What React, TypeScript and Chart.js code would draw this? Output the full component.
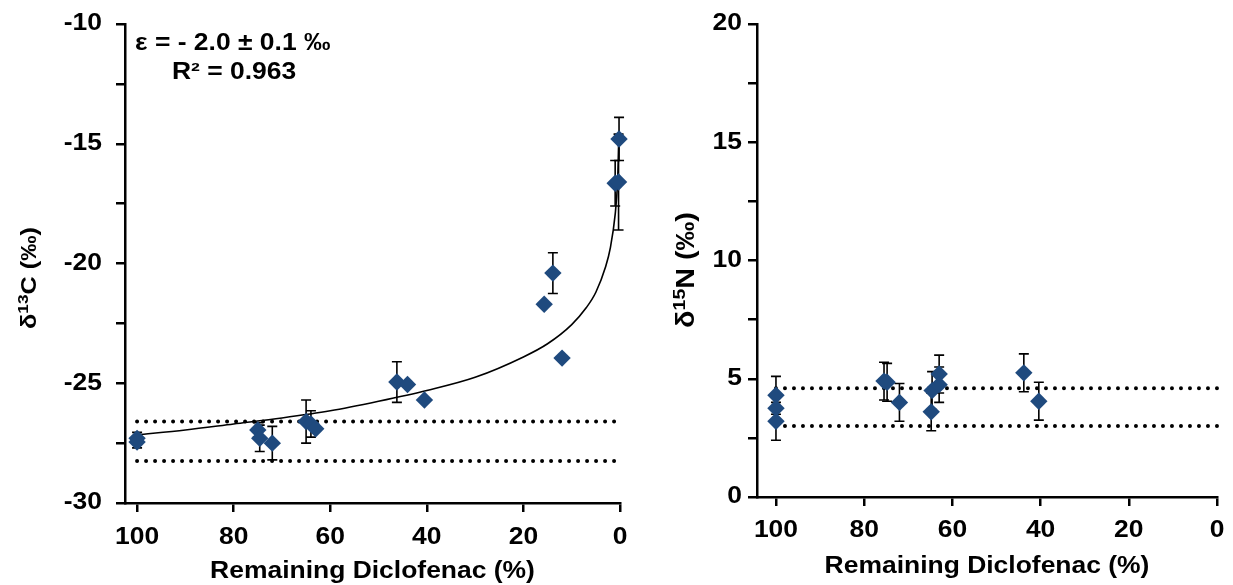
import React, { useEffect, useRef } from 'react';
import { Chart, registerables } from 'chart.js';

Chart.register(...registerables);

// ---------- data ----------
const xTickValues = [100, 80, 60, 40, 20, 0];

const carbonX = [100, 100, 75, 74.6, 72, 65, 64, 63, 46.2, 44, 40.5, 15.7, 13.9, 12, 1.0, 0.3, 0.2];
const carbonY = [-27.3, -27.45, -26.95, -27.3, -27.5, -26.6, -26.7, -26.9, -24.95, -25.05, -25.7, -21.7, -20.4, -23.95, -16.65, -16.6, -14.8];
const carbonErr = [0.25, 0.25, 0.3, 0.55, 0.7, 0.9, 0.55, 0, 0.85, 0, 0, 0, 0.85, 0, 0.95, 2.0, 0.9];

const fitX = [100, 90, 80, 70, 60, 50, 40, 30, 20, 15, 10, 7, 5, 3, 2, 1, 0.5, 0.2];
const fitY = [-27.15, -26.95, -26.7, -26.45, -26.15, -25.75, -25.3, -24.75, -23.9, -23.35, -22.55, -21.85, -21.2, -20.15, -19.35, -17.95, -16.6, -14.8];

const bandX = [100, 0];
const carbonBand = [-26.6, -28.25];

const nitrogenX = [100, 100, 100, 75.5, 74.8, 72, 64.8, 64.6, 63, 63, 43.8, 40.4];
const nitrogenY = [4.3, 3.75, 3.2, 4.9, 4.85, 4.0, 3.6, 4.5, 5.2, 4.75, 5.25, 4.05];
const nitrogenErr = [0.8, 0, 0.8, 0.8, 0.8, 0.8, 0.8, 0.8, 0.8, 0.75, 0.8, 0.8];
const nitrogenBand = [4.6, 3.0];

const carbonYTicks = [-30, -27.5, -25, -22.5, -20, -17.5, -15, -12.5, -10];
const nitrogenYTicks = [0, 2.5, 5, 7.5, 10, 12.5, 15, 17.5, 20];

const annotationLines = ['ε = - 2.0 ± 0.1 ‰', 'R² = 0.963'];
const xTitle = 'Remaining Diclofenac (%)';
// y titles: [base, superscript, rest]
const carbonYTitle = ['δ', '13', 'C (‰)'];
const nitrogenYTitle = ['δ', '15', 'N (‰)'];

// ---------- styles ----------
const FONT = "'Liberation Sans', Arial, sans-serif";
const MARKER = '#1F4A7E';
const STRETCH = 1.15;

function stretchText(canvas: HTMLCanvasElement) {
  const ctx = canvas.getContext('2d') as any;
  if (!ctx || ctx.__stretched) return;
  const orig = ctx.fillText.bind(ctx);
  ctx.fillText = (text: string, x: number, y: number, maxWidth?: number) => {
    ctx.save();
    ctx.translate(x, y);
    ctx.scale(STRETCH, 1);
    if (maxWidth !== undefined && maxWidth !== null && isFinite(maxWidth)) orig(text, 0, 0, maxWidth / STRETCH);
    else orig(text, 0, 0);
    ctx.restore();
  };
  ctx.__stretched = true;
}

function makeErrorPlugin(xs: number[], ys: number[], errs: number[]) {
  return {
    id: 'errorBars',
    beforeDatasetsDraw(chart: any) {
      const { ctx, scales } = chart;
      const sx = scales.x;
      const sy = scales.y;
      ctx.save();
      ctx.strokeStyle = '#000';
      ctx.lineWidth = 1.6;
      for (let i = 0; i < xs.length; i++) {
        if (!errs[i]) continue;
        const px = sx.getPixelForValue(xs[i]);
        const top = sy.getPixelForValue(ys[i] + errs[i]);
        const bot = sy.getPixelForValue(ys[i] - errs[i]);
        ctx.beginPath();
        ctx.moveTo(px, top);
        ctx.lineTo(px, bot);
        ctx.moveTo(px - 5, top);
        ctx.lineTo(px + 5, top);
        ctx.moveTo(px - 5, bot);
        ctx.lineTo(px + 5, bot);
        ctx.stroke();
      }
      ctx.restore();
    },
  };
}

function makeYTitlePlugin(parts: string[], cx: number, cy: number, size: number) {
  return {
    id: 'yTitle',
    afterDraw(chart: any) {
      const { ctx } = chart;
      const supSize = Math.round(size * 0.66);
      const big = `bold ${size}px ${FONT}`;
      const small = `bold ${supSize}px ${FONT}`;
      ctx.save();
      ctx.font = big;
      const w0 = ctx.measureText(parts[0]).width * STRETCH;
      const w2 = ctx.measureText(parts[2]).width * STRETCH;
      ctx.font = small;
      const w1 = ctx.measureText(parts[1]).width * STRETCH;
      const total = w0 + w1 + w2;
      ctx.translate(cx, cy);
      ctx.rotate(-Math.PI / 2);
      ctx.fillStyle = '#000';
      ctx.textAlign = 'left';
      ctx.textBaseline = 'alphabetic';
      const base = size * 0.36;
      let x = -total / 2;
      ctx.font = big;
      ctx.fillText(parts[0], x, base);
      x += w0;
      ctx.font = small;
      ctx.fillText(parts[1], x, base - size * 0.36);
      x += w1;
      ctx.font = big;
      ctx.fillText(parts[2], x, base);
      ctx.restore();
    },
  };
}

const annotationPlugin = {
  id: 'annot',
  afterDraw(chart: any) {
    const { ctx, chartArea } = chart;
    ctx.save();
    ctx.fillStyle = '#000';
    ctx.font = `bold 23px ${FONT}`;
    ctx.textBaseline = 'middle';
    ctx.textAlign = 'left';
    ctx.fillText(annotationLines[0], chartArea.left + 10, chartArea.top + 20);
    ctx.textAlign = 'center';
    ctx.fillText(annotationLines[1], chartArea.left + 109, chartArea.top + 49);
    ctx.restore();
  },
};

function buildOptions(cfg: {
  xMax: number;
  yMin: number;
  yMax: number;
  yTicks: number[];
  yWidth: number;
  xHeight: number;
  padRight: number;
  xTitlePad: number;
  yTickPad: number;
  xTickPad: number;
}) {
  const gridStyle = {
    display: true,
    drawOnChartArea: false,
    drawTicks: true,
    tickLength: 9,
    color: '#000',
    lineWidth: 2.5,
  };
  const tickFont = { family: FONT, size: 23, weight: 'bold' as const };
  return {
    responsive: false,
    animation: false as const,
    layout: { padding: { left: 0, top: 24, right: cfg.padRight, bottom: 0 } },
    plugins: { legend: { display: false }, tooltip: { enabled: false } },
    scales: {
      x: {
        type: 'linear' as const,
        reverse: true,
        min: 0,
        max: cfg.xMax,
        afterBuildTicks: (axis: any) => {
          axis.ticks = xTickValues.map((v) => ({ value: v }));
        },
        afterFit: (axis: any) => {
          axis.height = cfg.xHeight;
          axis.paddingLeft = 0;
          axis.paddingRight = 0;
        },
        grid: gridStyle,
        border: { display: true, color: '#000', width: 2.5 },
        ticks: {
          color: '#000',
          font: tickFont,
          padding: cfg.xTickPad,
          maxRotation: 0,
          autoSkip: false,
        },
        title: {
          display: true,
          text: xTitle,
          color: '#000',
          font: tickFont,
          padding: { top: 0, bottom: cfg.xTitlePad },
        },
      },
      y: {
        type: 'linear' as const,
        min: cfg.yMin,
        max: cfg.yMax,
        afterBuildTicks: (axis: any) => {
          axis.ticks = cfg.yTicks.map((v) => ({ value: v }));
        },
        afterFit: (axis: any) => {
          axis.width = cfg.yWidth;
          axis.paddingTop = 0;
          axis.paddingBottom = 0;
        },
        grid: gridStyle,
        border: { display: true, color: '#000', width: 2.5 },
        ticks: {
          color: '#000',
          font: tickFont,
          padding: cfg.yTickPad,
          autoSkip: false,
          callback: (v: any) => (Math.abs(v % 5) < 1e-9 ? String(v) : ''),
        },
        title: { display: false },
      },
    },
  };
}

function pointsDataset(xs: number[], ys: number[]) {
  return {
    type: 'scatter' as const,
    data: xs.map((x, i) => ({ x, y: ys[i] })),
    pointStyle: 'rectRot' as const,
    pointRadius: 8.7,
    pointBackgroundColor: MARKER,
    pointBorderColor: MARKER,
    pointBorderWidth: 0,
    showLine: false,
    clip: false,
  };
}

function bandDataset(y: number) {
  return {
    type: 'scatter' as const,
    data: bandX.map((x) => ({ x, y })),
    showLine: true,
    borderColor: '#000',
    borderWidth: 4,
    borderDash: [0, 9],
    borderCapStyle: 'round' as const,
    pointRadius: 0,
    fill: false,
    clip: false,
  };
}

function CarbonChart() {
  const ref = useRef<HTMLCanvasElement | null>(null);
  useEffect(() => {
    if (!ref.current) return;
    stretchText(ref.current);
    const chart = new Chart(ref.current, {
      type: 'scatter',
      data: {
        datasets: [
          pointsDataset(carbonX, carbonY),
          {
            type: 'scatter' as const,
            data: fitX.map((x, i) => ({ x, y: fitY[i] })),
            showLine: true,
            borderColor: '#000',
            borderWidth: 1.6,
            pointRadius: 0,
            cubicInterpolationMode: 'monotone' as const,
            fill: false,
            clip: false,
          },
          bandDataset(carbonBand[0]),
          bandDataset(carbonBand[1]),
        ] as any,
      },
      options: buildOptions({
        xMax: 102.5,
        yMin: -30,
        yMax: -10,
        yTicks: carbonYTicks,
        yWidth: 125,
        xHeight: 82,
        padRight: 30,
        xTitlePad: 0,
        yTickPad: 14,
        xTickPad: 12,
      }) as any,
      plugins: [
        makeErrorPlugin(carbonX, carbonY, carbonErr),
        annotationPlugin,
        makeYTitlePlugin(carbonYTitle, 28, 278, 22),
      ],
    });
    return () => chart.destroy();
  }, []);
  return <canvas ref={ref} width={650} height={585} style={{ position: 'absolute', left: 0, top: 0 }} />;
}

function NitrogenChart() {
  const ref = useRef<HTMLCanvasElement | null>(null);
  useEffect(() => {
    if (!ref.current) return;
    stretchText(ref.current);
    const chart = new Chart(ref.current, {
      type: 'scatter',
      data: {
        datasets: [
          pointsDataset(nitrogenX, nitrogenY),
          bandDataset(nitrogenBand[0]),
          bandDataset(nitrogenBand[1]),
        ] as any,
      },
      options: buildOptions({
        xMax: 104.3,
        yMin: 0,
        yMax: 20,
        yTicks: nitrogenYTicks,
        yWidth: 107,
        xHeight: 88,
        padRight: 16,
        xTitlePad: 5,
        yTickPad: 6,
        xTickPad: 11,
      }) as any,
      plugins: [
        makeErrorPlugin(nitrogenX, nitrogenY, nitrogenErr),
        makeYTitlePlugin(nitrogenYTitle, 685 - 650, 270, 25),
      ],
    });
    return () => chart.destroy();
  }, []);
  return <canvas ref={ref} width={583} height={585} style={{ position: 'absolute', left: 650, top: 0 }} />;
}

export default function App() {
  return (
    <div style={{ position: 'absolute', left: 0, top: 0, width: 1233, height: 585, background: '#fff' }}>
      <CarbonChart />
      <NitrogenChart />
    </div>
  );
}
